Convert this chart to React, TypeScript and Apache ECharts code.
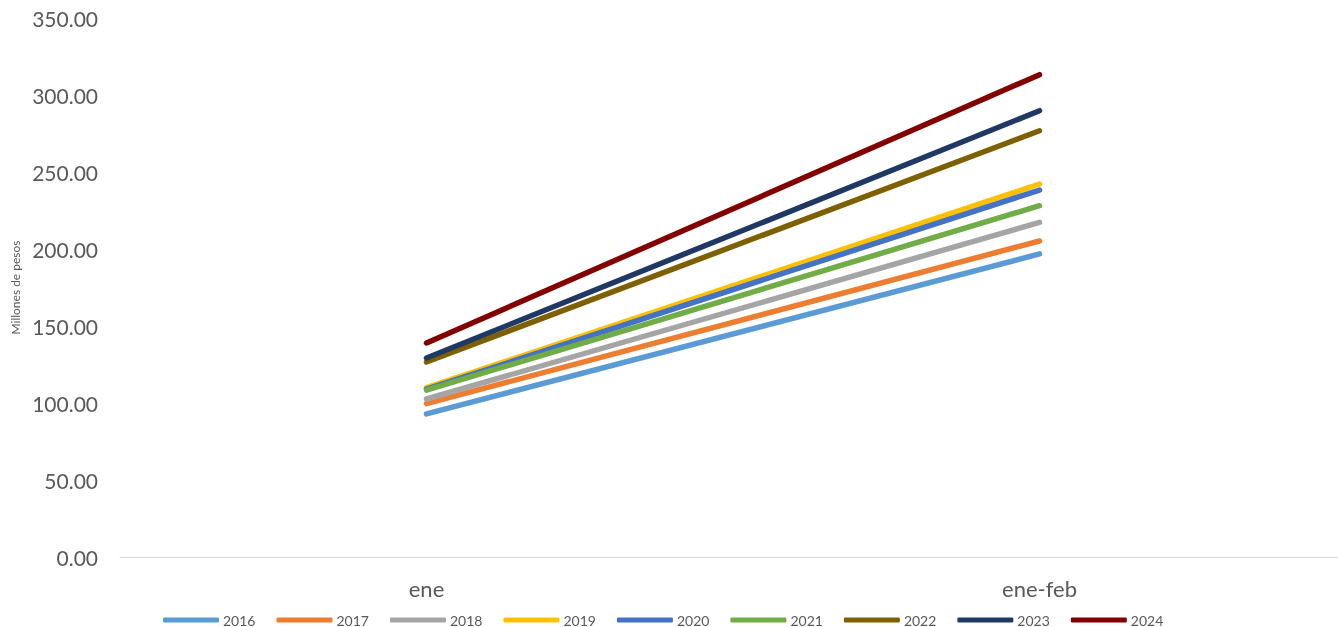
import React, { useEffect, useRef } from "react";
import * as echarts from "echarts";

const categories = ["ene", "ene-feb"];
const seriesNames = ["2016", "2017", "2018", "2019", "2020", "2021", "2022", "2023", "2024"];
const v2016 = [92.9, 196.8];
const v2017 = [99.6, 205.2];
const v2018 = [102.6, 217.3];
const v2019 = [110.0, 242.2];
const v2020 = [109.0, 238.3];
const v2021 = [108.4, 228.1];
const v2022 = [126.6, 276.8];
const v2023 = [129.2, 289.8];
const v2024 = [139.0, 313.2];
const seriesValues = [v2016, v2017, v2018, v2019, v2020, v2021, v2022, v2023, v2024];
const colors = ["#5B9BD5", "#ED7D31", "#A5A5A5", "#FFC000", "#4472C4", "#70AD47", "#7F6000", "#203864", "#820000"];
const yTicks = [0, 50, 100, 150, 200, 250, 300, 350];

const FONT = "Lato, 'Open Sans', sans-serif";

export default function App() {
  const ref = useRef<HTMLDivElement>(null);
  useEffect(() => {
    if (!ref.current) return;
    const chart = echarts.init(ref.current, undefined, { renderer: "svg" });
    chart.setOption({
      animation: false,
      textStyle: { fontFamily: FONT },
      grid: { left: 120, width: 1226, top: 18, bottom: 70, containLabel: false, outerBoundsMode: "none" },
      legend: {
        bottom: -5,
        left: 158,
        itemWidth: 56,
        itemHeight: 5,
        itemGap: 21,
        icon: "roundRect",
        textStyle: { color: "#595959", fontSize: 14, fontFamily: FONT, padding: [0, 0, 0, -1] },
        data: seriesNames,
      },
      xAxis: {
        type: "category",
        data: categories,
        boundaryGap: true,
        axisLine: { lineStyle: { color: "#D9D9D9", width: 1 } },
        axisTick: { show: false },
        axisLabel: { color: "#595959", fontSize: 22, margin: 20, fontFamily: FONT },
      },
      yAxis: {
        type: "value",
        min: yTicks[0],
        max: yTicks[yTicks.length - 1],
        interval: 50,
        name: "Millones de pesos",
        nameLocation: "middle",
        nameGap: 99,
        nameTextStyle: { color: "#595959", fontSize: 12, fontFamily: FONT },
        axisLine: { show: false },
        axisTick: { show: false },
        splitLine: { show: false },
        axisLabel: {
          color: "#595959",
          fontSize: 21,
          margin: 22,
          fontFamily: FONT,
          formatter: (v: number) => v.toFixed(2),
        },
      },
      series: seriesNames.map((name, i) => ({
        name,
        type: "line",
        data: seriesValues[i],
        symbol: "none",
        lineStyle: { color: colors[i], width: 5.5, cap: "round" },
        itemStyle: { color: colors[i] },
      })),
    });
    return () => chart.dispose();
  }, []);
  return <div ref={ref} style={{ position: "fixed", left: 0, top: 0, width: 1338, height: 627 }} />;
}
